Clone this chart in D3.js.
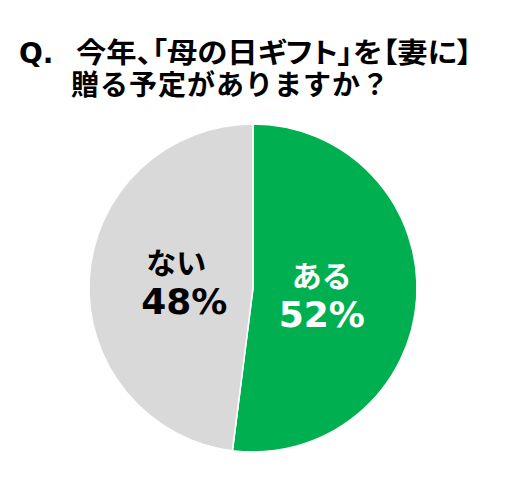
<!DOCTYPE html>
<html>
<head>
<meta charset="utf-8">
<style>
  body { margin: 0; background: #fff; }
  svg { display: block; }
  .title { font-family: "Noto Sans CJK JP", sans-serif; font-weight: 700; font-size: 28px; fill: #000; }
  .kana { font-family: "Noto Sans CJK JP", sans-serif; font-weight: 700; font-size: 30px; }
  .pct { font-family: "DejaVu Sans", sans-serif; font-weight: 700; font-size: 36px; }
</style>
</head>
<body>
<svg width="510" height="481"></svg>
<script src="https://d3js.org/d3.v7.min.js"></script>
<script>
var titleLines = ["今年、「母の日ギフト」を【妻に】", "贈る予定がありますか？"];
var answers = ["ある", "ない"];
var shares = [52, 48];
var colours = ["#00B050", "#D9D9D9"];
var textColours = ["#ffffff", "#000000"];

var svg = d3.select("svg");
var cx = 253, cy = 288, radius = 164;
// small hand nudges so labels sit where the original has them
var labelNudge = [[0, 5], [0, 0]];
var kanaDx = [0, -8];

// title
svg.append("text").attr("class", "title")
  .attr("x", 19).attr("y", 63)
  .style("font-family", "'DejaVu Sans', sans-serif")
  .text("Q.");
svg.append("text").attr("class", "title")
  .attr("x", 76).attr("y", 63)
  .style("font-feature-settings", "'palt'")
  .attr("textLength", 396).attr("lengthAdjust", "spacingAndGlyphs")
  .text(titleLines[0]);
svg.append("text").attr("class", "title")
  .attr("x", 71).attr("y", 95)
  .attr("letter-spacing", 1)
  .text(titleLines[1]);

var pie = d3.pie().sort(null).value(function(d) { return d; });
var arc = d3.arc().innerRadius(0).outerRadius(radius);
var arcs = pie(shares);

var g = svg.append("g").attr("transform", "translate(" + cx + "," + cy + ")");

g.selectAll(".slice").data(arcs).enter().append("path")
  .attr("class", "slice")
  .attr("d", arc)
  .attr("fill", function(d, i) { return colours[i]; })
  .attr("stroke", "#fff")
  .attr("stroke-width", 1.5);

var labelArc = d3.arc().innerRadius(radius * 0.42).outerRadius(radius * 0.42);
var labels = g.selectAll(".label").data(arcs).enter().append("g")
  .attr("class", "label")
  .attr("transform", function(d, i) {
    var c = labelArc.centroid(d);
    return "translate(" + (c[0] + labelNudge[i][0]) + "," + (c[1] + labelNudge[i][1]) + ")";
  });

labels.append("text").attr("class", "kana")
  .attr("text-anchor", "middle")
  .attr("x", function(d, i) { return kanaDx[i]; })
  .attr("y", -10)
  .attr("fill", function(d, i) { return textColours[i]; })
  .text(function(d, i) { return answers[i]; });
labels.append("text").attr("class", "pct")
  .attr("text-anchor", "middle")
  .attr("y", 30)
  .attr("fill", function(d, i) { return textColours[i]; })
  .text(function(d, i) { return shares[i] + "%"; });
</script>
</body>
</html>
